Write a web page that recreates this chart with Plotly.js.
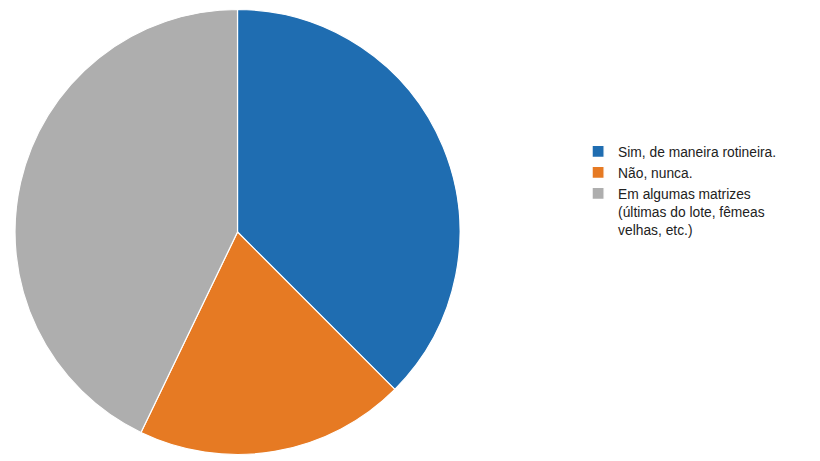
<!DOCTYPE html>
<html>
<head>
<meta charset="utf-8">
<script src="https://cdn.plot.ly/plotly-3.0.1.min.js"></script>
<style>html,body{margin:0;padding:0;background:#fff;}#chart{width:820px;height:461px;}</style>
</head>
<body>
<div id="chart"></div>
<script>
const categories = ["Sim, de maneira rotineira.", "Não, nunca.", "Em algumas matrizes<br>(últimas do lote, fêmeas<br>velhas, etc.)"];
const counts = [21, 11, 24];
const sliceColors = ["#1f6db1", "#e67a23", "#aeaeae"];

const trace = {
  type: "pie",
  labels: categories,
  values: counts,
  sort: false,
  direction: "clockwise",
  rotation: 0,
  textinfo: "none",
  hoverinfo: "label+percent",
  marker: {colors: sliceColors, line: {color: "#ffffff", width: 1.2}},
  domain: {x: [0.0183, 0.561], y: [0.013, 0.9805]}
};

const layout = {
  width: 820,
  height: 461,
  margin: {l: 0, r: 0, t: 0, b: 0},
  paper_bgcolor: "#ffffff",
  showlegend: true,
  legend: {
    x: 0.705, y: 0.705, xanchor: "left", yanchor: "top",
    valign: "top",
    font: {family: "Liberation Sans, Arial, sans-serif", size: 13.8, color: "#222222"},
    tracegroupgap: 0
  }
};

Plotly.newPlot("chart", [trace], layout, {displayModeBar: false, staticPlot: true});
</script>
</body>
</html>
